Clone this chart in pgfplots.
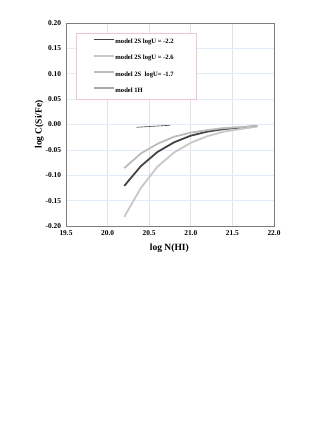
\documentclass[border=0pt]{standalone}
\usepackage{pgfplots}
\pgfplotsset{compat=1.18}
\usepackage{fontspec}
\setmainfont{Liberation Serif}
\definecolor{darkline}{RGB}{68,68,68}
\definecolor{lightA}{RGB}{200,200,200}
\definecolor{lightB}{RGB}{188,188,188}
\definecolor{midgray}{RGB}{168,168,168}
\definecolor{boxgray}{RGB}{125,125,125}
\definecolor{vgrid}{RGB}{226,226,226}
\definecolor{hgrid}{RGB}{226,236,246}
\definecolor{legpink}{RGB}{242,196,218}
\begin{document}
\begin{tikzpicture}[x=1pt,y=1pt]
\useasboundingbox (0,0) rectangle (327,423);
\begin{axis}[
  at={(66pt,197pt)}, anchor=south west,
  scale only axis, width=208pt, height=203pt,
  xmin=19.5, xmax=22, ymin=-0.2, ymax=0.2,
  xtick={19.5,20,20.5,21,21.5,22},
  ytick={-0.2,-0.15,-0.1,-0.05,0,0.05,0.1,0.15,0.2},
  /pgf/number format/assume math mode=true,
  xticklabel style={/pgf/number format/fixed,/pgf/number format/fixed zerofill,/pgf/number format/precision=1},
  yticklabel style={/pgf/number format/fixed,/pgf/number format/fixed zerofill,/pgf/number format/precision=2},
  ticklabel style={font=\fontsize{7.4}{8}\selectfont\bfseries},
  every x tick label/.append style={inner sep=0pt, anchor=center, yshift=-7.3pt},
  every y tick label/.append style={inner sep=0pt, anchor=east, xshift=-4.7pt},
  major tick length=0pt,
  axis line style={boxgray, line width=0.8pt},
  xmajorgrids, ymajorgrids,
  x grid style={vgrid, line width=0.6pt},
  y grid style={hgrid, line width=0.6pt},
  xlabel={log N(HI)}, ylabel={log C(Si/Fe)},
  every axis x label/.style={at={([yshift=-22.3pt]axis description cs:0.497,0)}, anchor=center, font=\fontsize{9.5}{11}\selectfont\bfseries},
  every axis y label/.style={at={([xshift=-26.7pt]axis description cs:0,0.5)}, rotate=90, anchor=center, font=\fontsize{9.5}{11}\selectfont\bfseries},
  legend cell align=left,
  legend image code/.code={\draw[#1, line width=1.8pt] (0pt,2.2pt) -- (20pt,2.2pt);},
  legend style={at={(0.0466,0.952)}, anchor=north west,
    draw=legpink, fill=white,
    inner xsep=17pt, inner ysep=5.5pt,
    font=\fontsize{6.6}{7}\selectfont\bfseries,
    row sep=9.8pt,
    nodes={inner sep=0pt, text height=5pt, text depth=1.5pt},
    /tikz/column 1/.style={column sep=0.8pt}},
]
\addplot[darkline, line width=1.8pt, forget plot] coordinates {
(20.2,-0.121)(20.4,-0.082)(20.6,-0.054)(20.8,-0.035)(21.0,-0.022)(21.2,-0.014)(21.4,-0.009)(21.6,-0.006)(21.8,-0.003)};
\addplot[lightA, line width=1.8pt, forget plot] coordinates {
(20.2,-0.182)(20.4,-0.125)(20.6,-0.083)(20.8,-0.055)(21.0,-0.036)(21.2,-0.023)(21.4,-0.014)(21.6,-0.009)(21.8,-0.004)};
\addplot[lightB, line width=1.8pt, forget plot] coordinates {
(20.2,-0.086)(20.4,-0.057)(20.6,-0.038)(20.8,-0.024)(21.0,-0.016)(21.2,-0.011)(21.4,-0.007)(21.6,-0.005)(21.8,-0.003)};
\addplot[darkline, line width=0.6pt, forget plot] coordinates {
(20.35,-0.0055)(20.75,-0.0015)};
\addlegendimage{darkline}
\addlegendentry{model 2S logU = -2.2\hspace*{5pt}}
\addlegendimage{lightA}
\addlegendentry{model 2S logU = -2.6\hspace*{5pt}}
\addlegendimage{lightB}
\addlegendentry{model 2S\ \ logU= -1.7\hspace*{5pt}}
\addlegendimage{midgray}
\addlegendentry{model 1H}
\end{axis}
\end{tikzpicture}
\end{document}
